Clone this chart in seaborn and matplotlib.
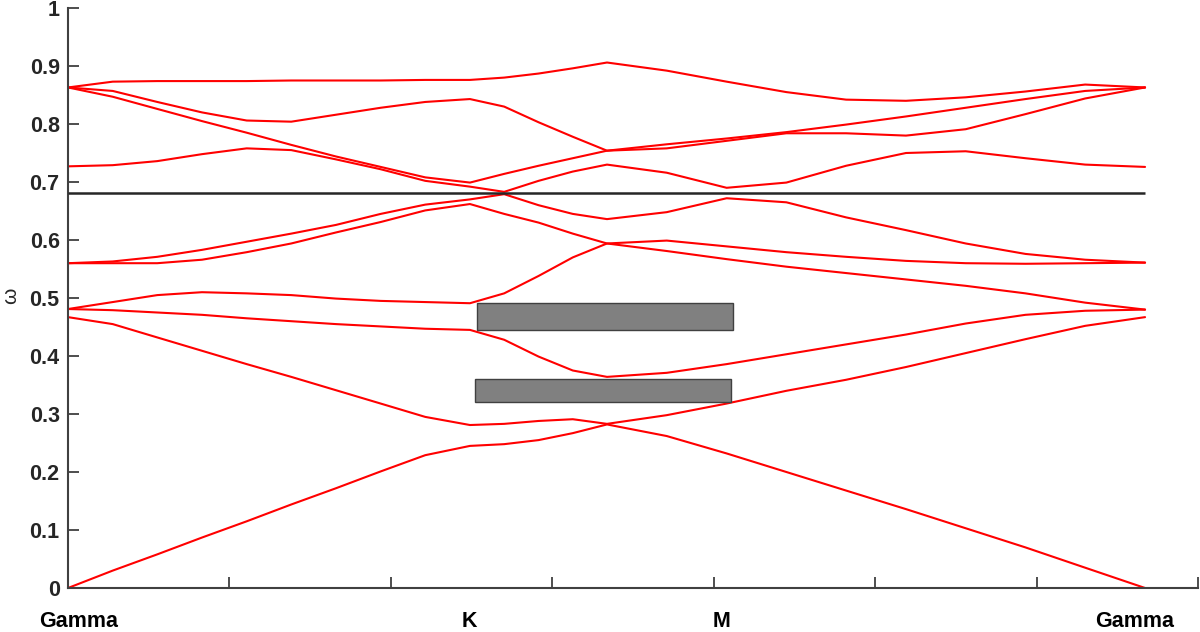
import numpy as np
import pandas as pd
import seaborn as sns
import matplotlib.pyplot as plt
from matplotlib.patches import Rectangle

# k-path positions (Gamma -> K -> M -> Gamma)
k_path = [0.000, 0.277, 0.553, 0.830, 1.107, 1.383, 1.660, 1.937, 2.213, 2.490,
          2.702, 2.915, 3.127, 3.339, 3.709, 4.080, 4.450, 4.820, 5.191, 5.561,
          5.931, 6.301, 6.672]

band1 = [0.000, 0.030, 0.058, 0.087, 0.115, 0.144, 0.172, 0.201, 0.229, 0.245, 0.248, 0.255,
         0.267, 0.282, 0.262, 0.232, 0.200, 0.168, 0.136, 0.103, 0.070, 0.035, 0.000]
band2 = [0.467, 0.455, 0.432, 0.409, 0.386, 0.364, 0.341, 0.318, 0.295, 0.281, 0.283, 0.288,
         0.291, 0.283, 0.298, 0.318, 0.340, 0.359, 0.381, 0.405, 0.429, 0.452, 0.467]
band3 = [0.481, 0.479, 0.475, 0.471, 0.465, 0.460, 0.455, 0.451, 0.447, 0.445, 0.428, 0.399,
         0.375, 0.364, 0.371, 0.386, 0.403, 0.420, 0.437, 0.456, 0.471, 0.478, 0.480]
band4 = [0.481, 0.493, 0.505, 0.510, 0.508, 0.505, 0.499, 0.495, 0.493, 0.491, 0.508, 0.538,
         0.570, 0.594, 0.581, 0.567, 0.554, 0.543, 0.532, 0.521, 0.508, 0.492, 0.480]
band5 = [0.560, 0.560, 0.560, 0.566, 0.579, 0.594, 0.613, 0.631, 0.651, 0.662, 0.645, 0.630,
         0.611, 0.594, 0.599, 0.589, 0.579, 0.571, 0.564, 0.560, 0.559, 0.560, 0.561]
band6 = [0.560, 0.563, 0.571, 0.583, 0.597, 0.611, 0.626, 0.645, 0.661, 0.670, 0.679, 0.660,
         0.645, 0.636, 0.648, 0.672, 0.665, 0.639, 0.617, 0.594, 0.576, 0.566, 0.561]
band7 = [0.727, 0.729, 0.736, 0.748, 0.758, 0.755, 0.739, 0.722, 0.702, 0.692, 0.683, 0.702,
         0.718, 0.730, 0.716, 0.690, 0.699, 0.728, 0.750, 0.753, 0.741, 0.730, 0.726]
band8 = [0.863, 0.847, 0.826, 0.805, 0.785, 0.764, 0.744, 0.726, 0.708, 0.699, 0.714, 0.728,
         0.741, 0.754, 0.758, 0.771, 0.784, 0.784, 0.780, 0.791, 0.817, 0.844, 0.863]
band9 = [0.863, 0.857, 0.838, 0.820, 0.806, 0.804, 0.816, 0.828, 0.838, 0.843, 0.830, 0.803,
         0.778, 0.754, 0.765, 0.775, 0.786, 0.799, 0.813, 0.828, 0.843, 0.857, 0.863]
band10 = [0.863, 0.873, 0.874, 0.874, 0.874, 0.875, 0.875, 0.875, 0.876, 0.876, 0.880, 0.887,
          0.896, 0.906, 0.892, 0.873, 0.855, 0.842, 0.840, 0.846, 0.856, 0.868, 0.863]

# reference frequency line and the two gap boxes (x0, x1, y0, y1)
ref_freq = 0.6805
gap_boxes = [(2.535, 4.121, 0.445, 0.492),
             (2.521, 4.107, 0.320, 0.360)]

sym_labels = ['Gamma', 'K', 'M', 'Gamma']
sym_pos = [0.068, 2.484, 4.051, 6.610]
ytick_vals = [0, 0.1, 0.2, 0.3, 0.4, 0.5, 0.6, 0.7, 0.8, 0.9, 1]
ytick_text = ['0', '0.1', '0.2', '0.3', '0.4', '0.5', '0.6', '0.7', '0.8', '0.9', '1']

bands = [band1, band2, band3, band4, band5, band6, band7, band8, band9, band10]
df = pd.concat([pd.DataFrame({'k': k_path, 'omega': b, 'band': i})
                for i, b in enumerate(bands)], ignore_index=True)

sns.set_style('ticks')
plt.rcParams['font.family'] = ['Liberation Sans', 'DejaVu Sans']

fig = plt.figure(figsize=(12, 6.32), dpi=100)
ax = fig.add_axes([68 / 1200, 44 / 632, 1130 / 1200, 580 / 632])

sns.lineplot(data=df, x='k', y='omega', units='band', estimator=None,
             color='#ff0000', lw=1.5, sort=False, ax=ax, legend=False)

ax.hlines(ref_freq, k_path[0], k_path[-1], color='#262626', lw=1.8, zorder=3)

for x0, x1, y0, y1 in gap_boxes:
    ax.add_patch(Rectangle((x0, y0), x1 - x0, y1 - y0, facecolor='#808080',
                           edgecolor='#404040', lw=1.0, zorder=4))

ax.set_xlim(0, 7)
ax.set_ylim(0, 1)
ax.set_xticks(range(8))
ax.set_xticklabels([])
ax.set_yticks(ytick_vals)
ax.set_yticklabels(ytick_text, fontsize=15.5, fontweight='bold', color='#262626')
ax.tick_params(direction='in', length=8, width=1.3, color='#404040', pad=6)
ax.set_xlabel('')
ax.set_ylabel('ω', fontsize=15, color='#262626', rotation=90)
ax.yaxis.set_label_coords(-0.042, 0.503)

for s in ['top', 'right']:
    ax.spines[s].set_visible(False)
for s in ['left', 'bottom']:
    ax.spines[s].set_color('#404040')
    ax.spines[s].set_linewidth(1.5)

for lab, xp in zip(sym_labels, sym_pos):
    ax.text(xp, -0.058, lab, ha='center', va='center', fontsize=15.5,
            fontweight='bold', color='black', clip_on=False)

fig.savefig('out.png', dpi=100)
